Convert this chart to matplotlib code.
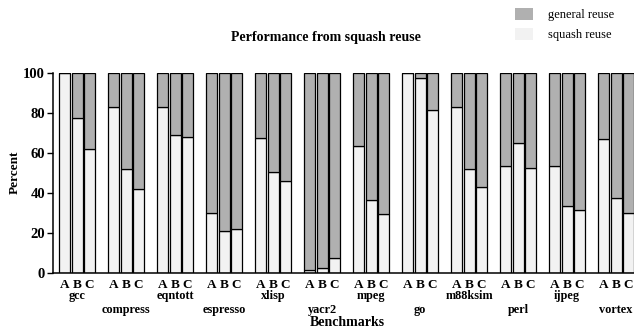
import numpy as np
import matplotlib.pyplot as plt
from matplotlib.patches import Patch
from matplotlib.transforms import blended_transform_factory

plt.rcParams.update({
    'font.family': ['Liberation Serif', 'DejaVu Serif'],
    'font.weight': 'bold',
    'text.color': '#000000',
})

benchmarks = ['gcc', 'compress', 'eqntott', 'espresso', 'xlisp', 'yacr2',
              'mpeg', 'go', 'm88ksim', 'perl', 'ijpeg', 'vortex']
configs = ['A', 'B', 'C']

# squash reuse share (percent) per benchmark for A, B, C
squash_a = [100, 83, 83, 30, 67.5, 1.5, 63.7, 100, 83.3, 53.7, 53.7, 67.3]
squash_b = [77.5, 52, 69, 21, 50.6, 2.7, 36.5, 97.8, 52.3, 65.2, 33.5, 37.7]
squash_c = [62, 42, 68, 22, 46, 7.7, 29.7, 81.5, 43.2, 52.8, 31.8, 30.2]
total = 100

general_color = '#b0b0b0'
squash_color = '#f2f2f2'

W, H = 634, 328
fig = plt.figure(figsize=(W / 100, H / 100), dpi=100)
ax = fig.add_axes([53.3 / W, 1 - 273.3 / H, 1 - 53.3 / W, 200 / H])

pitch = 12.3 / 49
width = 11 / 49
idx = np.arange(len(benchmarks))

tick_pos = []
tick_lab = []
for j, vals in enumerate([squash_a, squash_b, squash_c]):
    x = idx + (j - 1) * pitch
    vals = np.array(vals)
    ax.bar(x, vals, width, color=squash_color, edgecolor='black', linewidth=0.9)
    ax.bar(x, total - vals, width, bottom=vals, color=general_color,
           edgecolor='black', linewidth=0.9)
    tick_pos += list(x)
    tick_lab += [configs[j]] * len(x)

ax.set_xlim(-23.8 / 49, (W - 77.1) / 49)
ax.set_ylim(0, 100)
ax.set_yticks([0, 20, 40, 60, 80, 100])
ax.tick_params(axis='y', labelsize=10.5, length=4, width=1, pad=2)
ax.set_xticks(tick_pos)
ax.set_xticklabels(tick_lab, fontsize=9.5)
ax.tick_params(axis='x', length=0, pad=4)
for lab in ax.get_yticklabels():
    lab.set_fontweight('bold')

for s in ['top', 'right']:
    ax.spines[s].set_visible(False)
for s in ['left', 'bottom']:
    ax.spines[s].set_linewidth(1.1)

trans = blended_transform_factory(ax.transData, fig.transFigure)
for i, name in enumerate(benchmarks):
    y = 1 - (299 if i % 2 == 0 else 313) / H
    ax.text(i, y, name, transform=trans, ha='center', va='baseline',
            fontsize=8.8, fontweight='bold', clip_on=False)

fig.text(347 / W, 1 - 326.5 / H, 'Benchmarks', ha='center', va='baseline',
         fontsize=10, fontweight='bold')
fig.text(15 / W, 1 - 172 / H, 'Percent', ha='center', va='center',
         rotation=90, fontsize=9.5, fontweight='bold')
fig.text(326 / W, 1 - 40.5 / H, 'Performance from squash reuse',
         ha='center', va='baseline', fontsize=10, fontweight='bold')

handles = [Patch(facecolor=general_color, edgecolor='none'),
           Patch(facecolor=squash_color, edgecolor='none')]
leg = fig.legend(handles, ['general reuse', 'squash reuse'], loc='upper left',
                 bbox_to_anchor=(515 / W, 1 - 7.5 / H), frameon=False,
                 borderaxespad=0, borderpad=0, handlelength=1.4,
                 handleheight=1.15, handletextpad=1.25, labelspacing=0.55,
                 prop={'family': ['Liberation Serif'], 'weight': 'normal',
                       'size': 9})

fig.savefig('out.png', dpi=100)
